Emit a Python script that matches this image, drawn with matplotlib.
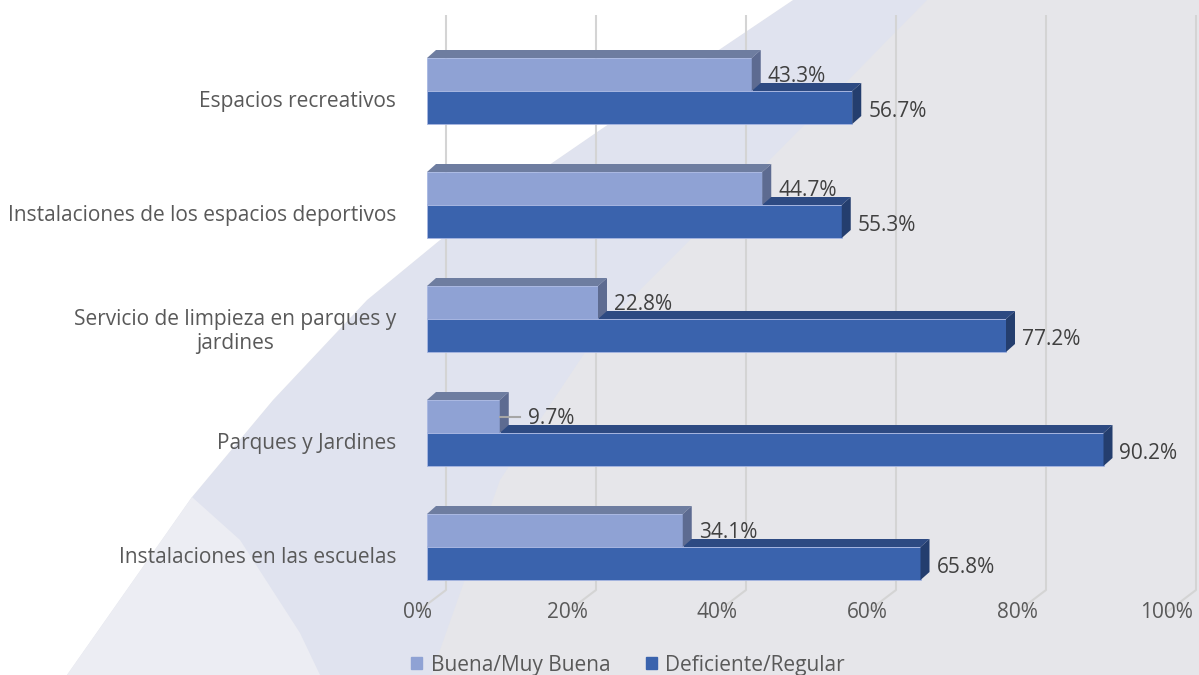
import numpy as np
import matplotlib
matplotlib.use('Agg')
import matplotlib.pyplot as plt
from matplotlib.patches import Polygon, Patch

plt.rcParams['font.family'] = ['Open Sans', 'DejaVu Sans']

# datos
categorias = ['Espacios recreativos',
              'Instalaciones de los espacios deportivos',
              'Servicio de limpieza en parques y\njardines',
              'Parques y Jardines',
              'Instalaciones en las escuelas']
buena = [43.3, 44.7, 22.8, 9.7, 34.1]
deficiente = [56.7, 55.3, 77.2, 90.2, 65.8]
series = ['Buena/Muy Buena', 'Deficiente/Regular']
ticks = [0, 20, 40, 60, 80, 100]
tick_labels = ['0%', '20%', '40%', '60%', '80%', '100%']

# colores (frente, arriba, lado)
c_light = ('#8fa2d4', '#6e7da0', '#5d6b91')
c_dark = ('#3a63ad', '#2d4a82', '#243e6e')
fs = 15

W, H = 1199, 675
fig = plt.figure(figsize=(W / 100, H / 100), dpi=100)

# fondo decorativo
bg = fig.add_axes([0, 0, 1, 1], zorder=-5)
bg.set_xlim(0, W)
bg.set_ylim(H, 0)
bg.axis('off')
bg.add_patch(Polygon([(0, 0), (W, 0), (W, H), (0, H)], color='#e6e6ea'))
bg.add_patch(Polygon([(793, 0), (927, 0), (760, 170), (600, 330), (500, 480),
                      (440, 650), (432, 675), (67, 675), (192, 497), (273, 400),
                      (367, 300), (440, 240), (600, 130)], color='#e0e3ef', lw=0))
bg.add_patch(Polygon([(0, 0), (793, 0), (600, 130), (440, 240), (367, 300),
                      (273, 400), (192, 497), (67, 675), (0, 675)],
                     color='white', lw=0))
bg.add_patch(Polygon([(192, 497), (240, 540), (300, 633), (320, 675), (67, 675)],
                     color='#ecedf3', lw=0))

# ejes: 0% en x=427px, 7.5 px por %
px_pct = 7.5
x0 = 427
ax = fig.add_axes([x0 / W, 0, 100 * px_pct / W, 1])
ax.set_facecolor('none')
ax.set_xlim(0, 100)
j0, paso = 91, 114  # union de barras (px) y separacion entre categorias
ax.set_ylim((H - j0) / paso, -j0 / paso)
for s in ax.spines.values():
    s.set_visible(False)
ax.set_xticks([])

h = 33 / paso
dx = 9 / px_pct
dy = 8 / paso
back = 19 / px_pct
front = 10 / px_pct
y_top = (15 - j0) / paso
y_floor = (590 - j0) / paso
y_floor_f = (612 - j0) / paso

# rejilla
for t, lab in zip(ticks, tick_labels):
    ax.plot([t + back, t + back, t - front], [y_top, y_floor, y_floor_f],
            color='#d4d4d4', lw=1.5, zorder=0, clip_on=False, solid_capstyle='butt')
    ax.text(t - front, (612 - j0) / paso, lab, ha='center', va='center',
            fontsize=fs, color='#595959', clip_on=False)


def bar3d(y0, v, cols):
    y1 = y0 + h
    ax.barh(y0 + h / 2, v, height=h, left=0, color=cols[0],
            edgecolor='#a8b7e2', lw=0.6, zorder=3)
    ax.add_patch(Polygon([(0, y0), (v, y0), (v + dx, y0 - dy), (dx, y0 - dy)],
                         closed=True, color=cols[1], lw=0, zorder=3))
    ax.add_patch(Polygon([(v, y0), (v + dx, y0 - dy), (v + dx, y1 - dy), (v, y1)],
                         closed=True, color=cols[2], lw=0, zorder=3))


yc = np.arange(len(categorias))
for i in yc:
    bar3d(i, deficiente[i], c_dark)
    bar3d(i - h, buena[i], c_light)
    # etiquetas de valor
    off = 16 / px_pct
    if buena[i] < 15:
        off = 28 / px_pct
        ax.plot([buena[i], buena[i] + 20 / px_pct], [i - h / 2 + 1 / paso] * 2,
                color='#a6a6a6', lw=1.5, zorder=4)
    ax.text(buena[i] + off, i - h / 2 + 2 / paso, f'{buena[i]:.1f}%',
            ha='left', va='center', fontsize=fs, color='#404040', zorder=5)
    ax.text(deficiente[i] + 16 / px_pct, i + h / 2 + 4 / paso, f'{deficiente[i]:.1f}%',
            ha='left', va='center', fontsize=fs, color='#404040', zorder=5)

ax.set_yticks(yc + 8 / paso)
ax.set_yticklabels(categorias, fontsize=fs, color='#595959')
ax.tick_params(axis='y', length=0, pad=22.3)
for lbl in ax.get_yticklabels():
    lbl.set_multialignment('center')

handles = [Patch(color=c_light[0]), Patch(color=c_dark[0])]
fig.legend(handles, series, loc='center', bbox_to_anchor=(628 / W, 1 - 665 / H),
           ncol=2, frameon=False, fontsize=fs, handlelength=0.55, handleheight=0.55,
           handletextpad=0.4, columnspacing=1.7, labelcolor='#595959',
           borderpad=0)

fig.savefig('out.png', dpi=100)
